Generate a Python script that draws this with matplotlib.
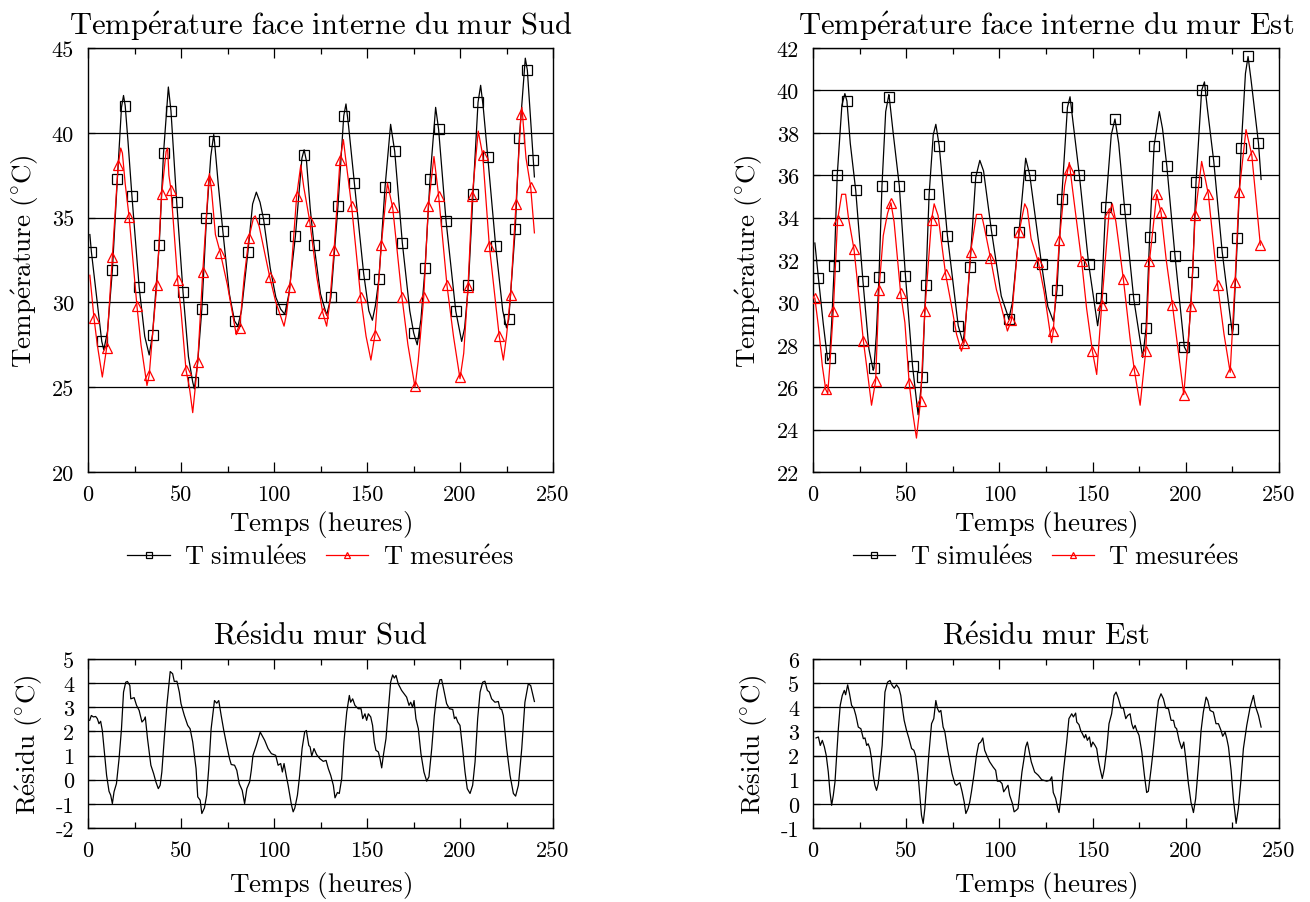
import matplotlib
matplotlib.use('Agg')
import matplotlib.pyplot as plt
from matplotlib.lines import Line2D
from matplotlib.ticker import MultipleLocator
import numpy as np

plt.rcParams['font.family'] = 'serif'
plt.rcParams['font.serif'] = ['cmr10']
plt.rcParams['mathtext.fontset'] = 'cm'
plt.rcParams['axes.unicode_minus'] = False
plt.rcParams['axes.formatter.use_mathtext'] = False

# ---- mur Sud : temperatures (heures, degC) ----
sud_sim_t = [1.0, 1.8, 7.4, 8.5, 10.5, 13.1, 15.8, 18.0, 19.1, 20.0, 21.5, 23.6, 27.5, 30.5, 32.9,
             34.7, 38.3, 40.6, 43.2, 44.6, 47.7, 51.1, 54.0, 56.3, 57.2, 59.0, 61.2, 63.7, 66.0,
             67.6, 68.0, 70.0, 72.5, 76.0, 78.8, 80.6, 82.5, 86.0, 88.5, 90.5, 92.5, 94.4, 98.0,
             101.0, 103.6, 105.8, 108.0, 111.5, 115.0, 116.2, 117.5, 119.5, 121.5, 125.0, 128.3,
             130.6, 134.4, 137.5, 138.7, 140.0, 143.2, 148.2, 151.0, 152.9, 154.5, 156.4, 159.7,
             162.7, 164.9, 169.0, 173.0, 175.1, 177.0, 179.0, 181.2, 183.9, 186.9, 188.5, 192.5,
             197.7, 200.9, 202.5, 204.5, 207.0, 209.7, 211.1, 212.5, 214.9, 219.2, 223.0, 225.0,
             226.2, 229.7, 231.9, 235.1, 236.2, 239.4, 240.0]
sud_sim_v = [34.0, 33.0, 27.7, 27.2, 28.3, 31.9, 37.3, 41.5, 42.2, 41.6, 39.5, 36.3, 30.9, 28.0, 26.9,
             28.1, 33.4, 38.8, 42.7, 41.3, 35.9, 30.6, 26.8, 25.3, 24.9, 26.5, 29.6, 35.0, 38.6,
             39.9, 39.5, 37.0, 34.2, 30.5, 28.9, 28.6, 29.5, 33.0, 35.8, 36.5, 35.9, 34.9, 32.0,
             30.3, 29.6, 29.3, 30.5, 33.9, 38.5, 39.0, 38.3, 35.5, 33.4, 30.5, 29.25,
             30.3, 35.7, 41.0, 41.7, 40.5, 37.05, 31.7, 29.5, 28.95, 29.8, 31.4, 36.8,
             40.5, 38.9, 33.5, 29.5, 28.2, 27.5, 29.0, 32.0, 37.3, 41.5, 40.2, 34.8,
             29.5, 27.7, 28.5, 31.0, 36.4, 41.8, 42.8, 41.5, 38.6, 33.3, 29.5, 28.5,
             29.0, 34.3, 39.7, 44.4, 43.7, 38.4, 37.4]
sud_sim_mk_t = [1.8, 7.4, 13.1, 15.8, 20.0, 23.6, 27.5, 34.7, 38.3, 40.6, 44.6, 47.7, 51.1, 56.3,
                61.2, 63.7, 68.0, 72.5, 78.8, 86.0, 94.4, 103.6, 111.5, 116.2, 121.5, 130.6, 134.4,
                137.5, 143.2, 148.2, 156.4, 159.7, 164.9, 169.0, 175.1, 181.2, 183.9, 188.5, 192.5,
                197.7, 204.5, 207.0, 209.7, 214.9, 219.2, 226.2, 229.7, 231.9, 236.2, 239.4]
sud_sim_mk_v = [33.0, 27.7, 31.9, 37.3, 41.6, 36.3, 30.9, 28.1, 33.4, 38.8, 41.3, 35.9, 30.6, 25.3,
                29.6, 35.0, 39.5, 34.2, 28.9, 33.0, 34.9, 29.6, 33.9, 38.7, 33.4, 30.3, 35.7,
                41.0, 37.05, 31.7, 31.4, 36.8, 38.9, 33.5, 28.2, 32.0, 37.3, 40.2, 34.8,
                29.5, 31.0, 36.4, 41.8, 38.6, 33.3, 29.0, 34.3, 39.7, 43.7, 38.4]

sud_mes_t = [1.0, 3.2, 5.0, 7.7, 10.0, 13.1, 16.2, 17.6, 18.5, 20.0, 22.1, 26.3, 28.5, 31.7, 32.9,
             35.0, 37.0, 39.6, 42.0, 42.8, 43.5, 44.6, 48.2, 50.0, 52.7, 54.5, 56.3, 57.5, 59.0,
             61.7, 64.9, 65.3, 66.5, 68.5, 71.2, 75.0, 79.7, 81.5, 84.0, 86.5, 89.0, 89.9, 92.0,
             97.7, 101.0, 105.4, 106.5, 108.6, 112.2, 114.4, 116.0, 119.2, 123.0, 126.2, 128.3,
             130.0, 132.3, 135.5, 137.3, 138.5, 141.7, 146.6, 149.5, 152.1, 154.3, 157.7, 161.0,
             162.0, 163.8, 168.8, 172.0, 175.8, 177.5, 180.5, 183.0, 186.0, 188.5, 193.0, 196.5,
             200.0, 202.0, 204.3, 206.6, 209.8, 212.2, 215.8, 221.1, 223.3, 225.0, 227.2, 230.1,
             232.8, 233.3, 235.5, 238.0, 240.0]
sud_mes_v = [31.6, 29.1, 27.5, 25.6, 27.3, 32.7, 38.1, 39.1, 38.8, 37.0, 35.05, 29.8, 27.5, 25.1, 25.7,
             28.5, 31.0, 36.4, 38.9, 39.1, 37.5, 36.65, 31.3, 29.5, 26.0, 25.0, 23.5, 24.8, 26.5,
             31.8, 37.2, 37.6, 36.5, 34.0, 32.9, 31.0, 28.1, 28.5, 31.5, 33.8, 35.0, 35.1, 34.5,
             31.5, 30.0, 28.6, 29.2, 30.9, 36.3, 38.1, 36.8, 34.8, 31.5, 29.4, 28.6,
             30.0, 33.1, 38.4, 39.6, 38.5, 35.7, 30.3, 28.0, 26.6, 28.1, 33.4, 37.05,
             36.5, 35.6, 30.3, 27.5, 25.0, 26.5, 30.3, 35.7, 38.6, 36.3, 31.0, 28.0,
             25.5, 27.0, 30.9, 36.3, 40.1, 38.7, 33.3, 28.0, 26.6, 28.0, 30.45, 35.8,
             41.1, 41.5, 38.5, 36.8, 34.1]
sud_mes_mk_t = [3.2, 10.0, 13.1, 16.2, 22.1, 26.3, 32.9, 37.0, 39.6, 44.6, 48.2, 52.7, 59.0, 61.7,
                64.9, 71.2, 81.5, 86.5, 97.7, 108.6, 112.2, 119.2, 126.2, 132.3, 135.5, 141.7,
                146.6, 154.3, 157.7, 163.8, 168.8, 175.8, 180.5, 183.0, 188.5, 193.0, 200.0,
                204.3, 206.6, 212.2, 215.8, 221.1, 227.2, 230.1, 232.8, 238.0]
sud_mes_mk_v = [29.1, 27.3, 32.7, 38.1, 35.05, 29.8, 25.7, 31.0, 36.4, 36.65, 31.3, 26.0, 26.5, 31.8,
                37.2, 32.9, 28.5, 33.8, 31.5, 30.9, 36.3, 34.8, 29.4, 33.1, 38.4, 35.7,
                30.3, 28.1, 33.4, 35.6, 30.3, 25.1, 30.3, 35.7, 36.3, 31.0, 25.6,
                30.9, 36.3, 38.7, 33.3, 28.0, 30.45, 35.8, 41.1, 36.8]

# ---- mur Est : temperatures ----
est_sim_t = [1.0, 2.9, 5.5, 7.9, 8.9, 10.0, 11.4, 13.0, 15.5, 17.1, 18.2, 20.0, 22.9, 26.8, 30.0,
             32.3, 32.7, 34.0, 35.4, 37.0, 39.0, 40.7, 40.9, 43.0, 46.3, 49.6, 53.4, 56.4, 58.6,
             60.5, 62.3, 64.5, 65.9, 67.7, 72.1, 77.9, 80.5, 82.0, 84.1, 87.3, 89.5, 91.5, 95.7,
             101.0, 104.6, 105.0, 107.0, 110.5, 114.1, 116.3, 122.6, 126.0, 129.0, 130.9, 133.4,
             136.5, 137.9, 139.5, 142.9, 147.9, 152.7, 154.7, 157.0, 160.0, 162.0, 164.0, 167.2,
             172.1, 176.9, 178.7, 180.6, 183.0, 185.8, 187.5, 189.8, 194.2, 199.2, 201.0, 203.7,
             205.5, 208.5, 210.0, 211.5, 215.0, 219.5, 225.0, 225.4, 227.7, 229.7, 232.0, 233.4,
             235.0, 239.0, 240.4]
est_sim_v = [32.8, 31.15, 29.0, 27.25, 27.4, 29.0, 31.7, 36.0, 39.3, 39.85, 39.5, 37.5, 35.3, 31.0, 27.8,
             26.8, 26.9, 28.5, 31.2, 35.5, 39.0, 39.8, 39.7, 38.0, 35.5, 31.25, 27.0, 24.7, 26.5,
             30.8, 35.1, 37.9, 38.4, 37.4, 33.15, 28.9, 28.1, 29.2, 31.65, 35.9, 36.7, 36.2, 33.4,
             30.3, 29.35, 29.2, 30.0, 33.3, 36.8, 36.0, 31.8, 29.8, 29.1, 30.6, 34.9,
             39.2, 39.7, 38.5, 36.0, 31.8, 28.9, 30.2, 34.5, 37.9, 38.65, 37.5, 34.4,
             30.15, 27.4, 28.8, 33.1, 37.4, 39.0, 38.2, 36.45, 32.2, 27.9, 27.6, 31.45,
             35.7, 40.0, 40.4, 39.2, 36.65, 32.4, 28.5, 28.75, 33.05, 37.3, 40.8, 41.6,
             40.5, 37.5, 35.8]
est_sim_mk_t = [2.9, 8.9, 11.4, 13.0, 18.2, 22.9, 26.8, 32.7, 35.4, 37.0, 40.9, 46.3, 49.6, 53.4,
                58.6, 60.5, 62.3, 67.7, 72.1, 77.9, 84.1, 87.3, 95.7, 105.0, 110.5, 116.3, 122.6,
                130.9, 133.4, 136.5, 142.9, 147.9, 154.7, 157.0, 162.0, 167.2, 172.1, 178.7, 180.6,
                183.0, 189.8, 194.2, 199.2, 203.7, 205.5, 208.5, 215.0, 219.5, 225.4, 227.7, 229.7,
                233.2, 239.0]
est_sim_mk_v = [31.15, 27.4, 31.7, 36.0, 39.5, 35.3, 31.0, 26.9, 31.2, 35.5, 39.7, 35.5, 31.25, 27.0,
                26.5, 30.8, 35.1, 37.4, 33.15, 28.9, 31.65, 35.9, 33.4, 29.2, 33.3, 36.0, 31.8,
                30.6, 34.9, 39.2, 36.0, 31.8, 30.2, 34.5, 38.65, 34.4, 30.15, 28.8, 33.1,
                37.4, 36.45, 32.2, 27.9, 31.45, 35.7, 40.0, 36.65, 32.4, 28.75, 33.05, 37.3,
                41.6, 37.5]

est_mes_t = [1.0, 3.0, 5.0, 6.8, 7.9, 9.0, 10.9, 13.2, 15.4, 17.5, 19.0, 22.0, 25.0, 27.0, 29.5,
             31.4, 33.6, 35.4, 37.7, 40.0, 41.8, 43.5, 47.0, 49.3, 51.6, 53.5, 55.5, 57.7, 60.0,
             63.6, 65.0, 67.1, 71.1, 74.3, 77.0, 79.6, 81.1, 84.6, 87.7, 90.4, 92.0, 95.2, 98.4,
             101.0, 104.3, 106.4, 110.5, 113.6, 115.0, 117.0, 120.9, 124.0, 128.0, 128.9, 132.2,
             135.0, 137.5, 139.0, 144.1, 146.8, 149.9, 152.2, 154.9, 158.8, 160.6, 162.5, 166.5,
             170.1, 172.4, 175.5, 178.5, 180.5, 184.4, 186.7, 189.5, 192.8, 198.9, 202.8, 205.0,
             208.5, 210.5, 212.1, 217.1, 220.5, 223.8, 226.4, 228.6, 232.3, 235.4, 240.0]
est_mes_v = [30.2, 28.8, 27.0, 25.9, 25.7, 27.0, 29.6, 33.9, 35.1, 35.1, 34.0, 32.5, 30.0, 28.2, 26.5,
             25.15, 26.3, 30.6, 33.15, 34.2, 34.7, 33.8, 30.45, 29.05, 26.2, 24.8, 23.6, 25.35, 29.6,
             33.9, 34.65, 34.1, 31.35, 29.85, 28.5, 27.7, 28.1, 32.4, 34.15, 34.15, 33.5, 32.1, 30.6,
             29.8, 28.65, 29.15, 33.3, 34.65, 34.4, 33.0, 31.9, 30.5, 28.1, 28.65, 32.95,
             35.5, 36.6, 35.5, 31.95, 29.7, 27.7, 26.6, 29.9, 34.2, 34.65, 33.8, 31.1,
             28.3, 26.8, 25.15, 27.7, 31.95, 35.1, 34.25, 32.0, 29.9, 25.65, 29.85, 34.1,
             36.65, 35.8, 35.1, 30.8, 28.5, 26.7, 30.95, 35.2, 38.15, 36.95, 32.7]
est_mes_mk_t = [1.1, 6.8, 10.9, 13.2, 22.0, 27.0, 33.6, 35.4, 41.8, 47.0, 51.6, 57.7, 60.0, 63.6,
                71.1, 81.1, 84.6, 95.2, 106.4, 110.5, 120.9, 128.9, 132.2, 137.5, 144.1, 149.9,
                154.9, 158.8, 166.5, 172.4, 178.5, 180.5, 184.4, 186.7, 192.8, 198.9, 202.8,
                205.0, 212.1, 217.1, 223.8, 226.4, 228.6, 235.4, 240.0]
est_mes_mk_v = [30.2, 25.9, 29.6, 33.9, 32.5, 28.2, 26.3, 30.6, 34.7, 30.45, 26.2, 25.35, 29.6, 33.9,
                31.35, 28.1, 32.4, 32.1, 29.15, 33.3, 31.9, 28.65, 32.95, 36.3, 31.95, 27.7,
                29.9, 34.2, 31.1, 26.8, 27.7, 31.95, 35.1, 34.25, 29.9, 25.65, 29.85,
                34.1, 35.1, 30.8, 26.7, 30.95, 35.2, 36.95, 32.7]

# ---- residus ----
sud_res_t = [0.9, 1.8, 2.9, 4.1, 5.0, 5.9, 6.8, 7.7, 9.0, 10.0, 11.3, 12.2, 13.1, 14.0, 15.3, 16.7,
             18.0, 19.1, 20.3, 21.2, 22.5, 23.0, 24.8, 26.1, 27.5, 29.0, 30.2, 30.8, 32.0, 33.8,
             35.3, 36.5, 37.8, 38.8, 39.7, 41.0, 42.4, 43.7, 44.2, 45.5, 46.4, 47.8, 49.1, 50.0,
             51.8, 53.6, 54.9, 56.3, 58.1, 59.0, 60.3, 61.2, 62.6, 63.8, 64.9, 66.2, 68.0, 69.2,
             70.3, 71.6, 73.0, 74.6, 76.1, 77.0, 78.8, 80.0, 81.3, 82.9, 84.2, 85.4, 86.9, 87.8,
             88.7, 90.5, 92.6, 95.0, 96.8, 98.6, 100.9, 102.2, 103.6, 104.5, 105.4, 106.7, 107.6,
             109.4, 110.3, 111.2, 112.6, 113.8, 115.1, 116.5, 117.4, 118.7, 119.4, 120.3, 121.5,
             122.9, 124.7, 126.5, 128.0, 129.2, 130.5, 131.9, 132.8, 134.1, 135.1, 136.4, 137.6,
             139.1, 140.5, 141.2, 142.3, 143.5, 145.3, 146.8, 147.7, 148.9, 149.8, 150.7, 152.0,
             153.0, 153.9, 154.8, 156.1, 157.0, 157.9, 158.8, 160.2, 161.5, 162.7, 163.8, 164.7,
             165.6, 166.8, 168.6, 171.3, 172.6, 173.5, 174.5, 175.3, 176.3, 177.6, 179.0, 180.6,
             182.1, 183.3, 184.8, 186.2, 187.8, 189.2, 190.1, 191.0, 192.8, 194.3, 196.1, 197.0,
             197.8, 198.8, 200.0, 201.4, 202.7, 203.9, 205.4, 206.8, 208.1, 209.5, 210.8, 212.2,
             213.4, 214.7, 215.8, 217.0, 218.8, 220.6, 221.5, 222.4, 223.3, 225.1, 226.9, 228.7,
             229.9, 231.4, 233.2, 234.9, 236.7, 238.0, 240.0]
sud_res_v = [2.46, 2.66, 2.6, 2.62, 2.53, 2.32, 2.42, 2.04, 1.0, 0.18, -0.48, -0.64, -0.99, -0.5, -0.16, 0.87,
             2.11, 3.63, 4.04, 4.07, 3.9, 3.35, 3.4, 3.08, 2.87, 2.39, 2.49, 2.6, 1.7, 0.6,
             0.25, -0.09, -0.37, -0.23, 0.32, 1.7, 3.08, 4.11, 4.48, 4.39, 4.07, 4.08, 3.63, 3.15,
             2.66, 2.25, 2.11, 1.56, 0.46, -0.71, -0.85, -1.4, -1.17, -0.64, 0.46, 2.11, 3.28, 3.17,
             3.28, 2.66, 2.04, 1.42, 0.87, 0.63, 0.6, 0.39, -0.16, -0.44, -0.99, -0.37, -0.09, 0.39,
             1.01, 1.42, 1.97, 1.63, 1.29, 1.08, 1.01, 0.6, 0.67, 0.32, 0.67, 0.12, -0.23,
             -1.05, -1.33, -1.17, -0.64, 0.18, 1.29, 1.98, 2.04, 1.42, 1.36, 0.98, 1.29,
             1.04, 0.87, 0.76, 0.8, 0.46, 0.18, -0.23, -0.75, -0.53, -0.57, 0.05, 1.56,
             2.8, 3.49, 3.21, 3.35, 3.08, 2.94, 2.94, 2.53, 2.73, 2.46, 2.73, 2.6,
             2.25, 1.56, 1.22, 1.15, 0.87, 0.49, 1.01, 1.7, 2.94, 4.04, 4.34, 4.21,
             4.32, 3.97, 3.7, 3.42, 3.08, 3.21, 3.0, 3.28, 2.53, 2.11, 1.08, 0.32,
             -0.06, 0.12, 1.29, 2.66, 3.7, 4.14, 4.15, 3.83, 3.15, 2.94, 2.91, 2.53,
             2.6, 2.39, 2.25, 1.29, 0.32, -0.37, -0.57, -0.23, 0.74, 2.53, 3.63, 4.04,
             4.08, 3.7, 3.63, 3.35, 3.21, 3.24, 2.94, 2.91, 2.66, 1.29, 0.18, -0.57,
             -0.68, -0.23, 1.29, 3.21, 3.97, 3.9, 3.24]

est_res_t = [1.6, 2.9, 3.9, 5.0, 6.1, 7.1, 8.2, 9.1, 10.0, 10.9, 11.8, 12.7, 13.6, 14.6, 15.7, 16.8,
             17.5, 18.6, 19.6, 20.7, 22.0, 23.0, 24.3, 25.7, 27.0, 27.9, 28.8, 29.6, 30.5, 31.4,
             32.3, 33.2, 34.1, 35.0, 35.9, 37.1, 38.6, 40.0, 41.3, 42.5, 43.6, 44.8, 46.1, 47.1,
             47.9, 48.9, 50.2, 51.4, 52.9, 54.1, 55.0, 56.4, 57.3, 58.2, 59.1, 60.0, 60.9, 62.1,
             63.6, 64.8, 65.9, 66.8, 67.7, 68.6, 69.8, 70.7, 72.1, 73.4, 74.6, 76.1, 77.0, 78.8,
             80.0, 81.1, 82.0, 83.2, 84.1, 85.0, 86.3, 87.7, 88.9, 90.0, 91.1, 92.1, 93.6, 94.8,
             96.6, 98.0, 98.9, 100.2, 101.4, 102.3, 103.4, 104.6, 105.5, 106.4, 107.0, 107.9,
             109.1, 110.0, 111.1, 112.1, 113.2, 114.1, 115.0, 116.3, 117.1, 118.9, 120.9, 122.7,
             125.4, 127.1, 128.1, 128.9, 130.2, 131.3, 132.0, 133.1, 134.3, 136.1, 137.3, 138.8,
             139.7, 140.9, 141.5, 142.7, 143.6, 144.5, 145.6, 146.3, 147.2, 148.3, 149.2, 150.1,
             151.3, 152.2, 153.1, 154.0, 155.2, 156.3, 157.6, 158.8, 160.2, 161.5, 162.6, 163.8,
             165.3, 166.5, 167.8, 168.8, 170.1, 171.0, 171.9, 172.8, 173.7, 174.9, 176.4, 177.8,
             179.0, 179.9, 181.4, 182.6, 183.9, 185.3, 186.7, 188.0, 189.2, 190.7, 192.1, 193.4,
             194.2, 195.1, 196.4, 197.8, 198.9, 200.0, 201.4, 202.8, 204.1, 205.3, 206.8, 208.2,
             209.4, 210.9, 211.8, 213.0, 214.8, 216.2, 217.5, 218.9, 219.8, 221.1, 222.0, 222.9,
             224.3, 225.5, 227.0, 228.2, 229.5, 230.9, 232.7, 234.5, 236.3, 237.2, 239.0, 240.4]
est_res_v = [2.73, 2.77, 2.42, 2.63, 2.36, 2.01, 1.32, 0.5, -0.06, 0.36, 0.91, 2.01, 3.11, 4.08, 4.49, 4.7,
             4.52, 4.93, 4.56, 4.08, 3.94, 3.66, 3.18, 3.11, 2.7, 2.73, 2.42, 2.49, 2.29, 1.87,
             1.18, 0.77, 0.56, 0.84, 1.46, 2.42, 4.63, 5.04, 5.11, 4.9, 4.79, 4.93, 4.79, 4.49,
             4.0, 3.46, 3.04, 2.73, 2.29, 2.22, 2.01, 1.18, 0.36, -0.47, -0.81, -0.19, 0.77, 2.01,
             3.32, 3.53, 4.28, 3.94, 3.8, 3.87, 3.18, 3.0, 2.29, 1.74, 1.25, 0.84, 0.77, 0.88,
             0.5, 0.08, -0.4, -0.19, 0.08, 0.5, 1.18, 2.01, 2.49, 2.56, 2.73, 2.22, 1.94, 1.74,
             1.53, 1.39, 0.94, 0.94, 0.84, 0.5, 0.63, 0.77, 0.36, 0.15, 0.01, -0.33,
             -0.26, -0.19, 0.63, 1.32, 1.87, 2.36, 2.56, 2.04, 1.74, 1.32, 1.18, 1.0,
             0.94, 0.98, 1.12, 0.47, 0.22, -0.19, -0.36, 0.36, 1.32, 2.56, 3.53, 3.73,
             3.6, 3.76, 3.39, 3.28, 3.04, 2.91, 2.73, 2.87, 2.63, 2.77, 2.36, 2.56,
             2.42, 2.29, 1.81, 1.46, 1.05, 1.46, 2.29, 3.32, 3.73, 4.49, 4.63, 4.38,
             3.97, 3.97, 3.53, 3.66, 3.73, 3.32, 3.11, 3.25, 3.04, 2.84, 2.15, 1.18,
             0.47, 0.52, 1.46, 2.29, 3.32, 4.28, 4.56, 4.35, 3.97, 3.94, 3.46, 3.46,
             3.18, 3.11, 2.63, 2.29, 2.56, 1.87, 0.84, 0.06, -0.36, 0.22, 1.6, 3.04,
             3.8, 4.42, 4.28, 3.87, 3.8, 3.32, 3.32, 3.04, 2.8, 2.97, 2.7, 2.36,
             1.39, 0.22, -0.81, -0.19, 0.91, 2.29, 3.25, 4.0, 4.49, 4.08, 3.66, 3.18]

titles_top = ['Température face interne du mur Sud', 'Température face interne du mur Est']
titles_bot = ['Résidu mur Sud', 'Résidu mur Est']
legend_labels = ['T simulées', 'T mesurées']
xlabel = 'Temps (heures)'
ylabel_top = 'Température (°C)'
ylabel_bot = 'Résidu (°C)'


def tex(s):
    # mathtext en police Computer Modern, accents compris
    s = s.replace('é', r'\acute{e}').replace('°', r'^{\circ}').replace(' ', r'\ ')
    return r'$\mathrm{' + s + '}$'


def style_axes(ax, ylo, yhi, ystep):
    ax.set_xlim(0, 250)
    ax.set_ylim(ylo, yhi)
    ax.xaxis.set_major_locator(MultipleLocator(50))
    ax.xaxis.set_minor_locator(MultipleLocator(25))
    ax.yaxis.set_major_locator(MultipleLocator(ystep))
    ax.tick_params(axis='x', which='both', direction='in', top=True, labelsize=16, pad=9)
    ax.tick_params(axis='x', which='major', length=7, width=0.9)
    ax.tick_params(axis='x', which='minor', length=4, width=0.9)
    ax.tick_params(axis='y', which='major', direction='in', length=5, width=0.9,
                   labelsize=16, pad=10)
    ax.yaxis.grid(True, color='black', linewidth=0.9)
    for sp in ax.spines.values():
        sp.set_linewidth(1.0)


fig = plt.figure(figsize=(13.1, 9.03), dpi=100)

lefts = [88 / 1310, 813 / 1310]
widths = [465 / 1310, 466 / 1310]
top_data = [
    (sud_sim_t, sud_sim_v, sud_sim_mk_t, sud_sim_mk_v, sud_mes_t, sud_mes_v, sud_mes_mk_t, sud_mes_mk_v,
     20, 45, 5),
    (est_sim_t, est_sim_v, est_sim_mk_t, est_sim_mk_v, est_mes_t, est_mes_v, est_mes_mk_t, est_mes_mk_v,
     22, 42, 2),
]
bot_data = [(sud_res_t, sud_res_v, -2, 5), (est_res_t, est_res_v, -1, 6)]

for i in range(2):
    st, sv, smt, smv, mt, mv, mmt, mmv, ylo, yhi, ystep = top_data[i]
    ax = fig.add_axes([lefts[i], 1 - 473 / 903, widths[i], 424 / 903])
    ax.plot(st, sv, color='black', lw=0.9, zorder=3)
    ax.plot(smt, smv, ls='none', marker='s', ms=6.5, mfc='none', mec='black', mew=0.9, zorder=3)
    ax.plot(mt, mv, color='red', lw=0.9, zorder=4)
    ax.plot(mmt, mmv, ls='none', marker='^', ms=7, mfc='none', mec='red', mew=0.9, zorder=4)
    style_axes(ax, ylo, yhi, ystep)
    ax.set_title(tex(titles_top[i]), fontsize=22, pad=10)
    ax.set_xlabel(tex(xlabel), fontsize=19.5)
    ax.xaxis.set_label_coords(0.5, -0.085)
    ax.set_ylabel(tex(ylabel_top), fontsize=19.5)
    ax.yaxis.set_label_coords(-0.102, 0.5)
    handles = [
        Line2D([], [], color='black', lw=0.9, marker='s', ms=4.5, mfc='none', mec='black', mew=0.9),
        Line2D([], [], color='red', lw=0.9, marker='^', ms=5, mfc='none', mec='red', mew=0.9),
    ]
    ax.legend(handles, [tex(l) for l in legend_labels], loc='center', bbox_to_anchor=(0.5, -0.2),
              ncol=2, frameon=False, fontsize=19, handlelength=1.6, handletextpad=0.55,
              columnspacing=0.7, borderaxespad=0)

    rt, rv, rlo, rhi = bot_data[i]
    axr = fig.add_axes([lefts[i], 1 - 829 / 903, widths[i], 169 / 903])
    axr.plot(rt, rv, color='black', lw=0.9, zorder=3)
    style_axes(axr, rlo, rhi, 1)
    axr.set_title(tex(titles_bot[i]), fontsize=22, pad=11)
    axr.set_xlabel(tex(xlabel), fontsize=19.5)
    axr.xaxis.set_label_coords(0.5, -0.24)
    axr.set_ylabel(tex(ylabel_bot), fontsize=19.5)
    axr.yaxis.set_label_coords(-0.092, 0.5)

fig.savefig('out.png', dpi=100)
